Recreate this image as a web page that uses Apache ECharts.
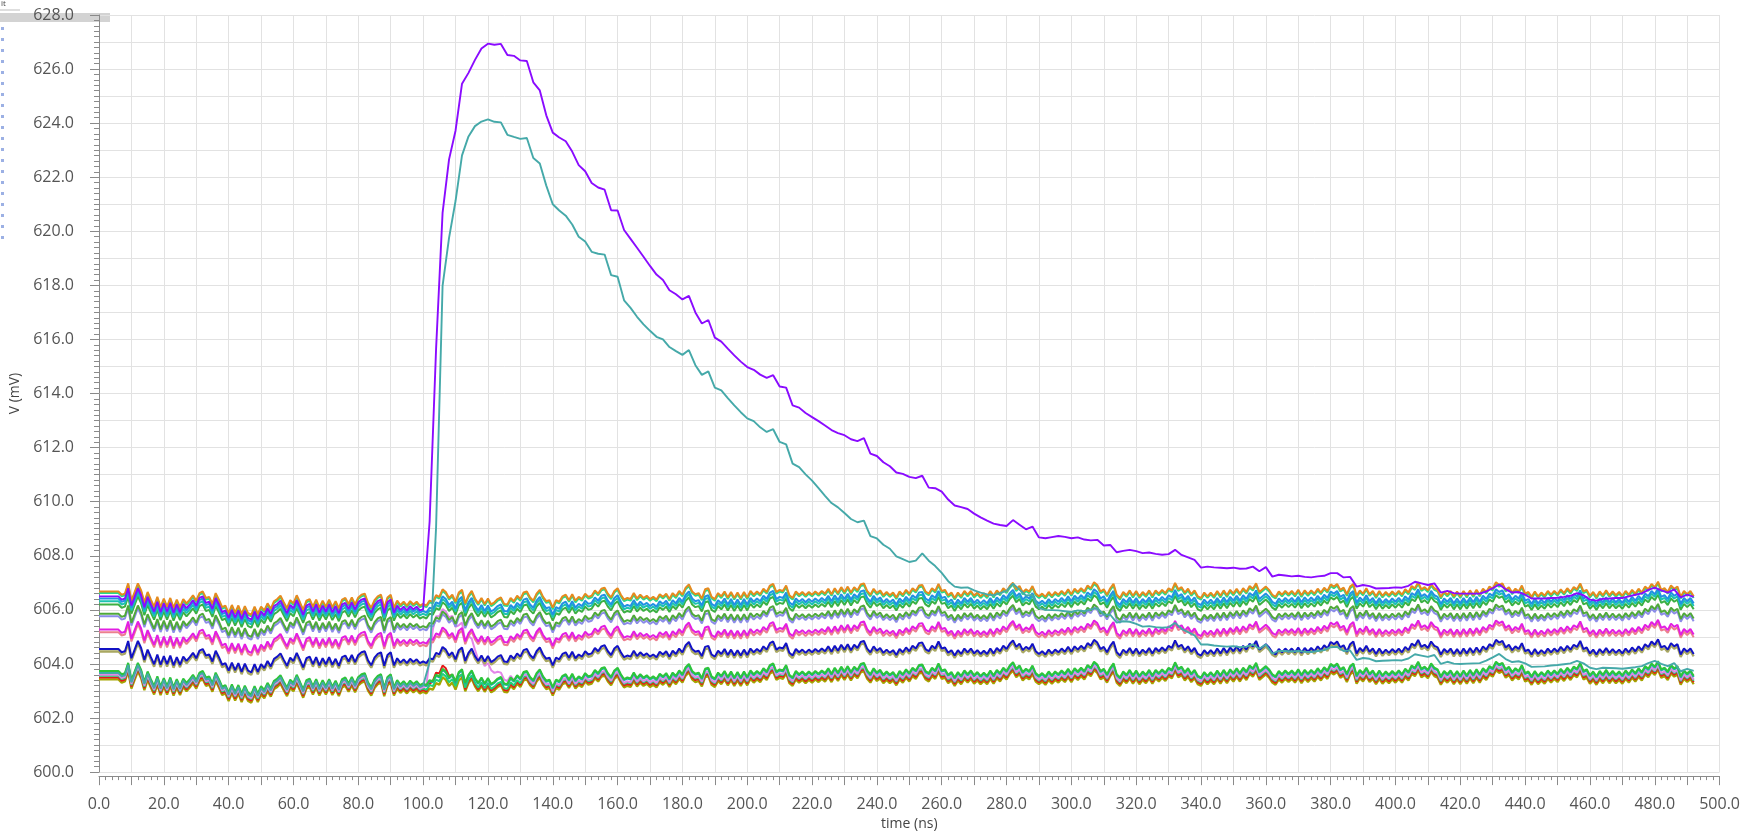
<!DOCTYPE html>
<html>
<head>
<meta charset="utf-8">
<title>Transient response</title>
<script src="https://cdn.jsdelivr.net/npm/echarts@6/dist/echarts.min.js"></script>
<style>
  html, body { margin: 0; padding: 0; background: #ffffff; }
  #chart { width: 1743px; height: 836px; }
</style>
</head>
<body>
<div id="chart"></div>
<script>
// Common-mode ripple shared by every node (mV, one sample per ns, t = 0 … 492 ns)
const ripple = [
  0,0,0,0,0,0,0,-0.12,-0.08,0.3,
  -0.34,-0.02,0.3,0.04,-0.4,-0.02,-0.3,-0.56,-0.2,-0.58,
  -0.26,-0.56,-0.24,-0.6,-0.3,-0.58,-0.28,-0.44,-0.3,-0.14,
  -0.34,-0.06,0,-0.24,-0.2,-0.46,-0.06,-0.3,-0.58,-0.52,
  -0.8,-0.5,-0.78,-0.52,-0.84,-0.54,-0.8,-0.86,-0.56,-0.84,
  -0.56,-0.7,-0.44,-0.64,-0.36,-0.28,-0.16,-0.4,-0.62,-0.32,
  -0.44,-0.14,-0.4,-0.68,-0.34,-0.28,-0.56,-0.3,-0.6,-0.34,
  -0.56,-0.3,-0.58,-0.36,-0.62,-0.3,-0.24,-0.46,-0.22,-0.48,
  -0.22,-0.12,-0.08,-0.42,-0.6,-0.32,-0.18,-0.12,-0.62,-0.22,
  -0.12,-0.6,-0.34,-0.5,-0.38,-0.52,-0.36,-0.48,-0.38,-0.52,
  -0.46,-0.52,-0.34,-0.38,-0.14,-0.2,0.08,-0.02,-0.24,-0.12,
  -0.38,-0.04,0.06,-0.44,-0.14,0.02,-0.26,-0.44,-0.24,-0.46,
  -0.26,-0.48,-0.4,-0.28,-0.22,-0.46,-0.48,-0.24,-0.36,-0.16,
  -0.28,-0.04,0,-0.22,-0.34,-0.08,0.06,-0.2,-0.36,-0.32,
  -0.6,-0.32,-0.38,-0.18,-0.12,-0.32,-0.1,-0.34,-0.2,-0.28,
  -0.08,-0.2,-0.16,0.04,-0.08,0.1,0.14,-0.08,-0.22,0.02,
  0.12,-0.12,-0.3,-0.24,-0.28,-0.06,-0.26,-0.12,-0.24,-0.16,
  -0.28,-0.2,-0.3,-0.1,-0.2,-0.08,-0.28,-0.06,-0.18,0.02,
  -0.12,0.14,0.26,0,-0.1,-0.06,-0.26,0.08,0.12,-0.2,
  -0.28,-0.06,-0.18,0,-0.22,-0.02,-0.24,-0.04,-0.24,-0.02,
  -0.22,0.02,-0.12,0,-0.1,0.1,-0.02,0.22,0.28,-0.02,
  0.06,0.02,0.22,-0.14,-0.24,0,-0.12,-0.02,-0.14,-0.02,
  -0.12,0,-0.1,0.02,-0.08,0.1,-0.1,0.12,-0.06,0.16,
  -0.02,0.18,-0.04,0.16,0.04,0.26,0.3,0.02,-0.12,0.1,
  -0.06,0.04,-0.14,-0.02,-0.14,-0.04,-0.22,0,-0.12,0.06,
  -0.08,0.12,0.02,0.22,0.24,0,-0.08,0.12,0.02,0.28,
  0.02,0.06,-0.14,-0.04,-0.24,-0.04,-0.18,0.02,-0.12,0.02,
  -0.16,-0.04,-0.18,-0.06,-0.18,0.02,-0.16,0.04,-0.08,0.12,
  0,0.2,0.32,0.08,0.2,-0.04,0.08,0,0.2,-0.08,
  -0.18,-0.08,-0.2,-0.02,-0.16,-0.02,-0.12,0.02,-0.1,0.08,
  -0.1,0.1,-0.02,0.12,0,0.22,0.12,0.34,0.24,0,
  0.08,-0.12,0.12,0.28,-0.12,-0.24,-0.02,-0.14,0.04,-0.16,
  0.02,-0.18,-0.02,-0.14,0.04,-0.16,0.04,-0.08,0.06,-0.06,
  0.12,0.04,0.32,0.08,0.16,-0.04,0.1,-0.1,0.04,-0.18,
  -0.24,-0.04,-0.18,-0.04,-0.18,0.02,-0.16,0.04,-0.14,0.06,
  -0.08,0.1,-0.08,0.12,-0.02,0.2,0.1,0.3,-0.02,0.08,
  0.18,0.06,-0.12,-0.2,0,-0.12,0.02,-0.1,0.02,-0.12,
  0.06,-0.14,0.04,-0.1,0.04,-0.08,0.1,-0.04,0.14,0.02,
  0.26,0.18,0.28,0.06,0.14,-0.1,0.18,0.28,-0.16,0.04,
  -0.08,0.12,-0.1,0.02,-0.18,0.02,-0.16,-0.02,-0.14,0,
  -0.12,0.02,-0.12,0.08,-0.04,0.2,0.12,0.34,0.08,0.16,
  0.04,0.28,0.12,0.06,-0.2,0,-0.12,0.02,-0.18,0,
  -0.18,0.02,-0.16,0.04,-0.14,0.06,-0.12,0.1,-0.02,0.18,
  0.1,0.34,0.24,0.3,0.06,0.16,-0.04,0.1,0,0.22,
  -0.08,-0.02,-0.2,0,-0.18,-0.04,-0.16,0.02,-0.12,0.02,
  -0.1,0.08,-0.06,0.12,-0.02,0.16,0.08,0.3,0,0.06,
  -0.16,-0.02,-0.2,0,-0.14,0.04,-0.14,0,-0.14,-0.02,
  -0.16,0.02,-0.12,0.06,-0.08,0.1,-0.04,0.18,0.08,0.28,
  0.16,0.36,0.06,0.12,-0.02,0.22,0.1,0.18,-0.2,0.02,
  -0.1,0.02,-0.18
];

// Quiescent level of each node (mV), listed in drawing order
const traceNames = [
  'n19','n18','n17','n16','n15','n14',
  'n13','n12','n11','n10','n09','n08',
  'n07','n06','n05','n04','n03'
];
const traceLevels = [
  603.43, 603.50, 603.56, 603.60, 603.70, 603.74,
  604.46, 604.55, 605.17, 605.27, 605.76, 605.86,
  606.20, 606.32, 606.42, 606.62, 606.68
];
const traceColors = [
  '#a5a500', '#e31a1a', '#1ed27a', '#e385e8', '#1aafa8', '#2ec43a',
  '#a9a862', '#1212c4', '#ec7f8e', '#e21ee2', '#8b8ce8', '#4fa83a',
  '#3cb043', '#1cc3b0', '#2291e3', '#25dd8a', '#e58a1f'
];

// Coupled kick seen on two quiet nodes right after the event (mV, 1 ns steps)
const orchidBumpStart = 101;
const orchidBump = [
  0.1, 1.0, 2.05, 2.3, 2.37, 2.35, 2.36, 2.36, 2.3, 2.15,
  1.87, 1.87, 1.66, 1.57, 1.31, 1.18, 1.0, 0.82, 0.78, 0.69,
  0.65, 0.47, 0.39, 0.3, 0.28, 0.25, 0.2, 0.16, 0.12, 0.08, 0.04, 0
];
const redBumpStart = 102;
const redBump = [0.1, 0.25, 0.32, 0.35, 0.36, 0.36, 0.3, 0.22, 0.14, 0.08, 0.04, 0];

// Responding nodes: level before the event, then envelope every 2 ns from 100 ns
const envStart = 100;
const envStep = 2;
const purpleLevel = 606.50;
const purpleEnvelope = [
  606.48, 609.6, 615.8, 620.6, 622.9, 624.1, 625.4, 626.0, 626.6, 627.0,
  627.2, 627.3, 627.15, 627.0, 626.85, 626.6, 626.3, 625.85, 625.15, 624.65,
  624.25, 623.85, 623.45, 623.05, 622.65, 622.3, 621.95, 621.7, 621.4, 621.0,
  620.65, 620.35, 620.0, 619.65, 619.3, 619.0, 618.7, 618.4, 618.1, 617.85,
  617.6, 617.35, 617.1, 616.85, 616.6, 616.35, 616.1, 615.88, 615.65, 615.42,
  615.2, 615.0, 614.8, 614.6, 614.4, 614.2, 614.0, 613.8, 613.6, 613.42,
  613.25, 613.08, 612.9, 612.75, 612.6, 612.48, 612.35, 612.2, 612.05, 611.9,
  611.75, 611.6, 611.45, 611.3, 611.15, 611.0, 610.85, 610.72, 610.6, 610.48,
  610.35, 610.22, 610.1, 609.98, 609.85, 609.72, 609.6, 609.48, 609.35, 609.22,
  609.1, 609.0, 608.95, 608.9, 608.88, 608.86, 608.85, 608.85, 608.85, 608.8,
  608.75, 608.7, 608.6, 608.45, 608.35, 608.3, 608.28, 608.25, 608.2, 608.18,
  608.15, 608.12, 608.08, 608.03, 607.98, 607.94, 607.9, 607.87, 607.84, 607.81,
  607.8, 607.78, 607.75, 607.72, 607.68, 607.64, 607.6, 607.55, 607.5, 607.45,
  607.4, 607.35, 607.3, 607.25, 607.22, 607.2, 607.18, 607.16, 607.14, 607.12,
  607.1, 607.08, 607.06, 607.04, 607.02, 607.0, 606.98, 606.97, 606.96, 606.95,
  606.95, 606.94, 606.93, 606.92, 606.9, 606.88, 606.86, 606.84, 606.82, 606.8,
  606.78, 606.76, 606.74, 606.72, 606.7, 606.7, 606.7, 606.7, 606.68, 606.66,
  606.64, 606.62, 606.6, 606.58, 606.56, 606.55, 606.54, 606.54, 606.54, 606.54,
  606.54, 606.54, 606.55, 606.56, 606.58, 606.6, 606.62, 606.64, 606.65, 606.66,
  606.66, 606.66, 606.66, 606.66, 606.66, 606.66, 606.66
];
const tealLevel = 603.66;
const tealEnvelope = [
  603.66, 604.4, 609.2, 617.9, 620.0, 621.5, 622.75, 623.65, 624.15, 624.3,
  624.4, 624.45, 624.25, 624.05, 623.85, 623.7, 623.45, 623.05, 622.45, 622.05,
  621.6, 621.15, 620.7, 620.35, 620.0, 619.7, 619.4, 619.25, 619.0, 618.6,
  618.2, 617.75, 617.45, 617.1, 616.8, 616.6, 616.4, 616.2, 616.0, 615.75,
  615.55, 615.35, 615.15, 614.95, 614.7, 614.5, 614.3, 614.05, 613.8, 613.55,
  613.3, 613.1, 612.85, 612.6, 612.4, 612.15, 611.9, 611.65, 611.4, 611.15,
  610.9, 610.6, 610.3, 610.05, 609.85, 609.6, 609.4, 609.2, 609.0, 608.85,
  608.7, 608.55, 608.4, 608.2, 608.0, 607.85, 607.8, 607.85, 607.9, 607.6,
  607.35, 607.2, 607.1, 607.0, 606.95, 606.88, 606.82, 606.75, 606.7, 606.7,
  606.7, 606.65, 606.55, 606.45, 606.35, 606.25, 606.2, 606.15, 606.1, 606.05,
  606.02, 606.0, 605.95, 605.9, 605.82, 605.75, 605.7, 605.65, 605.6, 605.52,
  605.46, 605.4, 605.36, 605.32, 605.28, 605.24, 605.2, 605.14, 605.08, 605.02,
  604.96, 604.9, 604.86, 604.82, 604.78, 604.74, 604.7, 604.66, 604.62, 604.58,
  604.54, 604.5, 604.48, 604.46, 604.44, 604.42, 604.41, 604.4, 604.38, 604.37,
  604.36, 604.35, 604.34, 604.32, 604.31, 604.3, 604.29, 604.28, 604.28, 604.27,
  604.26, 604.25, 604.24, 604.24, 604.23, 604.22, 604.21, 604.2, 604.2, 604.19,
  604.18, 604.17, 604.16, 604.15, 604.14, 604.14, 604.13, 604.12, 604.11, 604.1,
  604.1, 604.09, 604.08, 604.07, 604.06, 604.06, 604.05, 604.04, 604.03, 604.02,
  604.02, 604.01, 604.0, 603.99, 603.98, 603.98, 603.97, 603.96, 603.96, 603.95,
  603.95, 603.94, 603.94, 603.93, 603.93, 603.92, 603.92
];

// Axis ranges and tick spacing
const timeRange = [0, 500];
const timeMajor = 20;
const timeGrid = 10;
const voltRange = [600, 628];
const voltMajor = 2;
const voltGrid = 1;

// ---- build series ----
function quietTrace(level, bump, bumpStart) {
  return ripple.map(function (r, t) {
    let extra = 0;
    if (bump && t >= bumpStart && t - bumpStart < bump.length) extra = bump[t - bumpStart];
    return [t, level + r + extra];
  });
}
function respondingTrace(level, envelope) {
  const pts = [];
  for (let t = 0; t < envStart; t++) pts.push([t, level + ripple[t]]);
  envelope.forEach(function (v, k) {
    const t = envStart + k * envStep;
    pts.push([t, v + ripple[t]]);
  });
  return pts;
}

const series = traceNames.map(function (name, i) {
  let data;
  if (name === 'n16') data = quietTrace(traceLevels[i], orchidBump, orchidBumpStart);
  else if (name === 'n18') data = quietTrace(traceLevels[i], redBump, redBumpStart);
  else data = quietTrace(traceLevels[i]);
  const w = (name === 'n19' || name === 'n13') ? 2.3 : 2.0;
  return {
    name: name, type: 'line', data: data, showSymbol: false, symbol: 'none',
    lineStyle: { color: traceColors[i], width: w }, itemStyle: { color: traceColors[i] }
  };
});
series.push({
  name: 'n02', type: 'line', data: respondingTrace(tealLevel, tealEnvelope),
  showSymbol: false, symbol: 'none',
  lineStyle: { color: '#45a9a9', width: 1.9 }, itemStyle: { color: '#45a9a9' }
});
series.push({
  name: 'n01', type: 'line', data: respondingTrace(purpleLevel, purpleEnvelope),
  showSymbol: false, symbol: 'none',
  lineStyle: { color: '#8a0bff', width: 1.9 }, itemStyle: { color: '#8a0bff' }
});

const labelFont = { fontFamily: 'Open Sans', fontSize: 16, color: '#555555' };
const gridLine = { show: true, lineStyle: { color: '#e2e2e2', width: 1 } };

const chart = echarts.init(document.getElementById('chart'), null, { renderer: 'canvas' });
chart.setOption({
  animation: false,
  backgroundColor: '#ffffff',
  grid: { left: 99, right: 13, top: 15, bottom: 60, containLabel: false },
  xAxis: [
    {
      type: 'value', min: timeRange[0], max: timeRange[1], interval: timeMajor,
      offset: 4,
      name: 'time (ns)', nameLocation: 'middle', nameGap: 40,
      nameTextStyle: { fontFamily: 'Open Sans', fontSize: 14, color: '#444444' },
      axisLine: { show: true, lineStyle: { color: '#8a8a8a', width: 1 } },
      axisTick: { show: true, length: 9, lineStyle: { color: '#8a8a8a' } },
      minorTick: { show: true, splitNumber: 10, length: 4, lineStyle: { color: '#8a8a8a' } },
      axisLabel: Object.assign({ margin: 20, formatter: function (v) { return v.toFixed(1); } }, labelFont),
      splitLine: { show: false }
    },
    {
      type: 'value', min: timeRange[0], max: timeRange[1], interval: timeGrid,
      position: 'bottom', offset: 4,
      axisLine: { show: false },
      axisTick: { show: true, length: 9, lineStyle: { color: '#8a8a8a' } },
      axisLabel: { show: false },
      splitLine: gridLine
    }
  ],
  yAxis: [
    {
      type: 'value', min: voltRange[0], max: voltRange[1], interval: voltMajor,
      offset: 9,
      name: 'V (mV)', nameLocation: 'middle', nameGap: 62,
      nameTextStyle: { fontFamily: 'Open Sans', fontSize: 14, color: '#444444' },
      axisLine: { show: true, lineStyle: { color: '#8a8a8a', width: 1 } },
      axisTick: { show: true, length: 9, lineStyle: { color: '#8a8a8a' } },
      minorTick: { show: true, splitNumber: 10, length: 5, lineStyle: { color: '#8a8a8a' } },
      axisLabel: Object.assign({ margin: 16, formatter: function (v) { return v.toFixed(1); } }, labelFont),
      splitLine: { show: false }
    },
    {
      type: 'value', min: voltRange[0], max: voltRange[1], interval: voltGrid,
      position: 'left',
      axisLine: { show: false }, axisTick: { show: false }, axisLabel: { show: false },
      splitLine: gridLine
    }
  ],
  graphic: [
    { type: 'rect', z: -10, shape: { x: 0, y: 13, width: 110, height: 9 }, style: { fill: '#d3d3d3' } },
    { type: 'text', left: 1, top: 0, style: { text: 'it', font: '8px "Open Sans"', fill: '#444444' } },
    { type: 'line', shape: { x1: 0, y1: 10, x2: 20, y2: 10 }, style: { stroke: '#bdbdbd', lineWidth: 1 } },
    { type: 'line', shape: { x1: 2.5, y1: 27, x2: 2.5, y2: 246 },
      style: { stroke: '#9cb0e4', lineWidth: 3, lineDash: [3, 8] } }
  ],
  series: series
});
</script>
</body>
</html>
